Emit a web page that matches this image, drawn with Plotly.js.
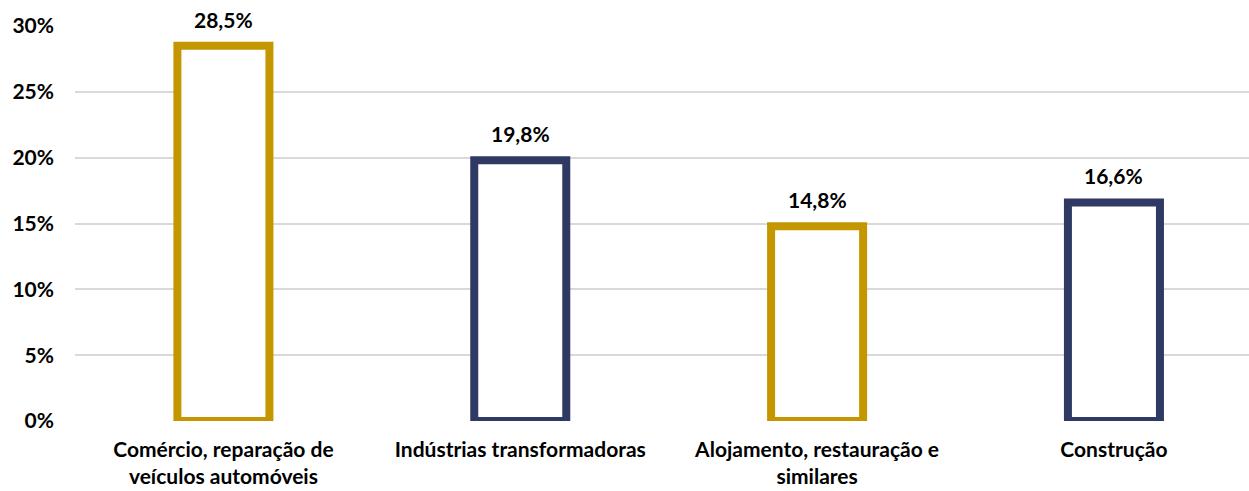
<!DOCTYPE html>
<html>
<head>
<meta charset="utf-8">
<script src="https://cdn.plot.ly/plotly-3.0.1.min.js"></script>
<style>html,body{margin:0;padding:0;background:#fff;}#chart{width:1249px;height:491px;}</style>
</head>
<body>
<div id="chart"></div>
<script>
const categories = ["Comércio, reparação de<br>veículos automóveis", "Indústrias transformadoras", "Alojamento, restauração e<br>similares", "Construção"];
const values = [0.285, 0.198, 0.148, 0.166];
const valueLabels = ["28,5%", "19,8%", "14,8%", "16,6%"];
const barColors = ["#C49600", "#2E3A63", "#C49600", "#2E3A63"];
const yTickVals = [0, 0.05, 0.10, 0.15, 0.20, 0.25, 0.30];
const yTickText = ["0%", "5%", "10%", "15%", "20%", "25%", "30%"];

const xIdx = categories.map((c, i) => i);
const font = "Lato, 'Open Sans', sans-serif";

const trace = {
  type: "bar",
  x: xIdx,
  y: values,
  width: 0.31,
  cliponaxis: false,
  marker: { color: "#ffffff", line: { color: barColors, width: 8 } },
  hoverinfo: "skip"
};

const annotations = values.map((v, i) => ({
  x: i, y: v, xref: "x", yref: "y",
  text: valueLabels[i], showarrow: false,
  yanchor: "bottom", yshift: 12,
  font: { family: font, size: 21, color: "#000", weight: "bold" }
}));

const layout = {
  width: 1249, height: 491,
  margin: { l: 75, r: 0, t: 26, b: 70 },
  paper_bgcolor: "#fff", plot_bgcolor: "#fff",
  showlegend: false,
  xaxis: {
    range: [-0.5, 3.455],
    tickvals: xIdx, ticktext: categories,
    showgrid: false, zeroline: false, showline: false, ticks: "",
    ticklabelstandoff: 14,
    tickfont: { family: font, size: 21, color: "#000", weight: "bold" },
    fixedrange: true
  },
  yaxis: {
    range: [0, 0.30],
    tickvals: yTickVals, ticktext: yTickText,
    showgrid: true, gridcolor: "#D9D9D9", gridwidth: 2,
    zeroline: false, showline: false, ticks: "",
    ticklabelstandoff: 20,
    tickfont: { family: font, size: 21, color: "#000", weight: "bold" },
    fixedrange: true
  },
  annotations: annotations
};

Plotly.newPlot("chart", [trace], layout, { displayModeBar: false, staticPlot: true });
</script>
</body>
</html>
